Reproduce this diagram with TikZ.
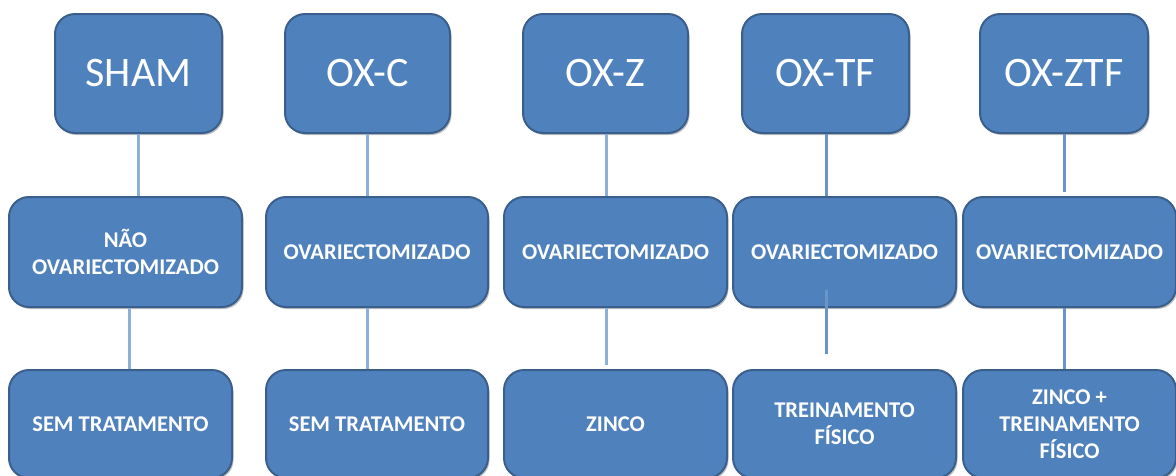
\documentclass[tikz,border=0pt]{standalone}
\usepackage{fontspec}
\setmainfont{Carlito}
\usetikzlibrary{shadows}
\definecolor{boxfill}{HTML}{4F81BD}
\definecolor{boxline}{HTML}{3B5F8C}
\definecolor{connA}{HTML}{8DB0DA}
\definecolor{connB}{HTML}{6B95C9}
\tikzset{
  box/.style={draw=boxline, fill=boxfill, line width=2pt, rounded corners=20pt,
    text=white, align=center, inner sep=0pt,
    drop shadow={shadow xshift=1.5pt, shadow yshift=-2pt, opacity=0.25, fill=black}},
  topbox/.style={box, minimum height=119pt, font=\fontsize{42}{50}\selectfont},
  subbox/.style={box, minimum height=110pt, font=\bfseries\fontsize{22.5}{27}\selectfont},
  botbox/.style={box, minimum height=108pt, font=\bfseries\fontsize{22.5}{27}\selectfont},
  conn/.style={draw=connA, line width=3pt},
  conn2/.style={draw=connB, line width=3pt}
}
\begin{document}
\begin{tikzpicture}[x=1pt, y=-1pt]
\useasboundingbox (0,0) rectangle (1176,475);
% top row
\node[topbox, minimum width=167pt] (t1) at (138.5,73.5) {SHAM};
\node[topbox, minimum width=165pt] (t2) at (367.5,73.5) {OX-C};
\node[topbox, minimum width=165pt] (t3) at (605.5,73.5) {OX-Z};
\node[topbox, minimum width=167pt] (t4) at (825.5,73.5) {OX-TF};
\node[topbox, minimum width=168pt] (t5) at (1064,73.5) {OX-ZTF};
% middle row
\node[subbox, minimum width=233pt] (m1) at (125.5,252) {NÃO\\OVARIECTOMIZADO};
\node[subbox, minimum width=222pt] (m2) at (377,252) {OVARIECTOMIZADO};
\node[subbox, minimum width=223pt] (m3) at (615.5,252) {OVARIECTOMIZADO};
\node[subbox, minimum width=223pt] (m4) at (844.5,252) {OVARIECTOMIZADO};
\node[subbox, minimum width=213pt] (m5) at (1069.5,252) {OVARIECTOMIZADO};
% bottom row
\node[botbox, minimum width=223pt] (b1) at (120.5,424) {SEM TRATAMENTO};
\node[botbox, minimum width=222pt] (b2) at (377,424) {SEM TRATAMENTO};
\node[botbox, minimum width=223pt] (b3) at (615.5,424) {ZINCO};
\node[botbox, minimum width=223pt] (b4) at (844.5,424) {TREINAMENTO\\FÍSICO};
\node[botbox, minimum width=213pt] (b5) at (1069.5,424) {ZINCO +\\TREINAMENTO\\FÍSICO};
% connector end points
\coordinate (c1a) at (138,0);
\coordinate (c1b) at (129,0);
\coordinate (c2) at (367.5,0);
\coordinate (c3) at (606,0);
\coordinate (c3e) at (606,365);
\coordinate (c4) at (826,0);
\coordinate (c4s) at (826,290);
\coordinate (c4e) at (826,354);
\coordinate (c5) at (1064,0);
\coordinate (c5e) at (1064,192);
% connectors
\draw[conn] (t1.south -| c1a) -- (m1.north -| c1a);
\draw[conn] (m1.south -| c1b) -- (b1.north -| c1b);
\draw[conn] (t2.south -| c2) -- (m2.north -| c2);
\draw[conn] (m2.south -| c2) -- (b2.north -| c2);
\draw[conn] (t3.south -| c3) -- (m3.north -| c3);
\draw[conn] (m3.south -| c3) -- (c3e);
\draw[conn2] (t4.south -| c4) -- (m4.north -| c4);
\draw[conn2] (c4s) -- (c4e);
\draw[conn2] (t5.south -| c5) -- (c5e);
\draw[conn2] (m5.south -| c5) -- (b5.north -| c5);
\end{tikzpicture}
\end{document}
